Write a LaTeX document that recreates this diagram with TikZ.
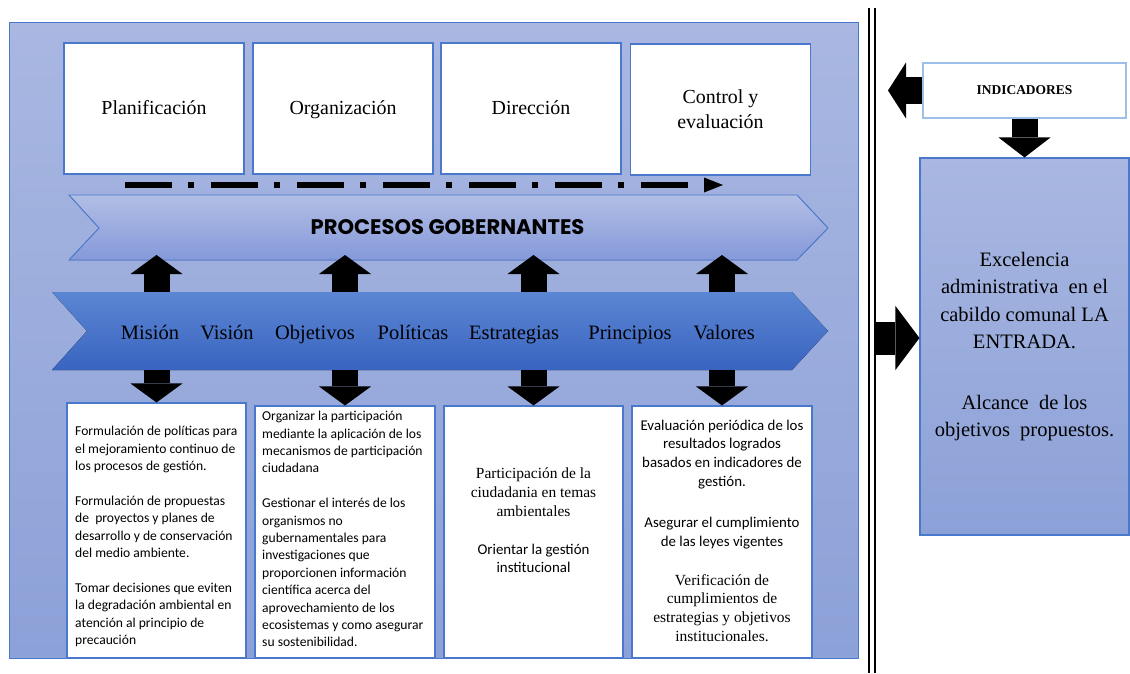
\documentclass[tikz,border=0pt]{standalone}
\usepackage{fontspec}
\setmainfont{Liberation Serif}
\newfontfamily\calibri{Carlito}
\newfontfamily\procfont{Poppins}
\usetikzlibrary{arrows.meta,positioning}

\definecolor{paneltop}{HTML}{A9B7E1}
\definecolor{panelbot}{HTML}{8CA1D8}
\definecolor{bandtop}{HTML}{5B86D3}
\definecolor{bandbot}{HTML}{3964C0}
\definecolor{edgeblue}{HTML}{4A78CC}
\definecolor{indedge}{HTML}{9CC0E8}

\tikzset{
	panel/.style={draw=edgeblue, line width=0.8pt, top color=paneltop, bottom color=panelbot},
	procband/.style={draw=edgeblue, line width=0.8pt, top color=paneltop!90!white, bottom color=panelbot!95!blue},
	baseband/.style={top color=bandtop, bottom color=bandbot},
	topbox/.style={draw=edgeblue, line width=0.9pt, fill=white, minimum width=5.4cm, minimum height=3.93cm, inner sep=0pt, align=center, font=\fontsize{17}{21.3}\selectfont},
	lowbox/.style={draw=edgeblue, line width=0.9pt, fill=white, inner sep=0pt},
	word/.style={anchor=base, inner sep=0pt, font=\fontsize{17.5}{21}\selectfont},
	smalltxt/.style={inner sep=0pt, font=\calibri\fontsize{11.6}{14.85}\selectfont},
	midtxt/.style={inner sep=0pt, align=center, font=\calibri\fontsize{12.7}{16}\selectfont},
	seriftxt/.style={inner sep=0pt, align=center, font=\fontsize{13.2}{16}\selectfont},
	flowline/.style={line width=0.18cm, dash pattern=on 1.41cm off 0.48cm on 0.18cm off 0.51cm, -{Triangle[width=0.45cm, length=0.57cm, line width=0pt]}},
	fat/.style n args={3}{line width=#1, -{Triangle[width=#2, length=#3, line width=0pt]}},
	vfat/.style={fat={0.78cm}{1.56cm}{0.57cm}}
}

\begin{document}
\begin{tikzpicture}[x=0.03cm, y=-0.03cm]
	\useasboundingbox (0,0) rectangle (1130,673);
	%background panel
	\draw[panel] (9,22) rectangle (858,658);

	%management functions on top
	\node[topbox, text depth=0.22em] (plan) at (154,108.5) {Planificación};
	\node[topbox, text depth=0.22em] (org) at (343,108.5) {Organización};
	\node[topbox, text depth=0.22em] (dir) at (531,108.5) {Dirección};
	\node[topbox] (ctl) at (720.5,109.5) {Control y\\evaluación};

	%dash dot flow under the boxes
	\coordinate (flowstart) at (125,185);
	\coordinate (flowend) at (723,185);
	\draw[flowline] (flowstart) -- (flowend);

	%governing processes band
	\filldraw[procband] (69,195) -- (797,195) -- (828,228) -- (797,260) -- (69,260) -- (99,228) -- cycle;
	\node[inner sep=0pt, font=\procfont\bfseries\fontsize{18}{21}\selectfont] (gob) at (447.5,227.5) {PROCESOS GOBERNANTES};

	%base band with the guiding elements
	\fill[baseband] (52,292) -- (792,292) -- (828,331) -- (792,370) -- (52,370) -- (87,331) -- cycle;
	\node[word] (mis) at (150,339) {Misión};
	\node[word] (vis) at (227,339) {Visión};
	\node[word] (obj) at (315,339) {Objetivos};
	\node[word] (pol) at (413,339) {Políticas};
	\node[word] (est) at (514,339) {Estrategias};
	\node[word] (pri) at (630,339) {Principios};
	\node[word] (val) at (724,339) {Valores};

	%bottom boxes
	\node[lowbox, minimum width=5.37cm, minimum height=7.65cm] (b1) at (156.5,530.5) {};
	\node[lowbox, minimum width=5.4cm, minimum height=7.56cm] (b2) at (345,532) {};
	\node[lowbox, minimum width=5.37cm, minimum height=7.56cm] (b3) at (533.5,532) {};
	\node[lowbox, minimum width=5.4cm, minimum height=7.56cm] (b4) at (722,532) {};

	\node[smalltxt, anchor=north west, align=left] (t1) at (75,426) {Formulación de políticas para\\el mejoramiento continuo de\\los procesos de gestión.\\[14.85pt]Formulación de propuestas\\de \ proyectos y planes de\\desarrollo y de conservación\\del medio ambiente.\\[14.85pt]Tomar decisiones que eviten\\la degradación ambiental en\\atención al principio de\\precaución};
	\node[smalltxt, anchor=north west, align=left] (t2) at (262,411) {Organizar la participación\\mediante la aplicación de los\\mecanismos de participación\\ciudadana\\[14.85pt]Gestionar el interés de los\\organismos no\\gubernamentales para\\investigaciones que\\proporcionen información\\científica acerca del\\aprovechamiento de los\\ecosistemas y como asegurar\\su sostenibilidad.};
	\node[seriftxt, anchor=north] (t3a) at (533.5,468) {Participación de la\\ciudadania en temas\\ambientales};
	\node[midtxt, anchor=north] (t3b) at (533.5,543.5) {Orientar la gestión\\institucional};
	\node[midtxt, anchor=north] (t4a) at (722,419.5) {Evaluación periódica de los\\resultados logrados\\basados en indicadores de\\gestión.};
	\node[midtxt, anchor=north] (t4b) at (722,517) {Asegurar el cumplimiento\\de las leyes vigentes};
	\node[seriftxt, anchor=north] (t4c) at (722,574) {Verificación de\\cumplimientos de\\estrategias y objetivos\\institucionales.};

	%block arrows between the bands and the boxes
	\coordinate (basetop) at (0,292);
	\coordinate (basebot) at (0,370);
	\coordinate (gobtip) at (0,255);
	\foreach \b in {b1,b2,b3,b4}{
		\draw[vfat] (basetop -| \b.north) -- (gobtip -| \b.north);
		\draw[vfat] (basebot -| \b.north) -- (\b.north);
	}

	%separator and result side
	\draw[line width=0.06cm] (869,8) -- (869,673);
	\draw[line width=0.06cm] (875,8) -- (875,673);
	\node[draw=indedge, line width=0.9pt, fill=white, minimum width=6.09cm, minimum height=1.65cm, font=\bfseries\fontsize{11.5}{14}\selectfont] (ind) at (1024.5,90.5) {INDICADORES};
	\node[draw=edgeblue, line width=0.9pt, top color=paneltop, bottom color=panelbot, minimum width=6.27cm, minimum height=11.31cm, align=center, font=\fontsize{17.5}{23.5}\selectfont] (exc) at (1024.5,346.5) {Excelencia\\administrativa \ en el\\cabildo comunal LA\\ENTRADA.\\[28pt]Alcance \ de los\\objetivos \ propuestos.};
	\coordinate (indtip) at (888,90.5);
	\draw[fat={0.81cm}{1.68cm}{0.54cm}] (ind.west) -- (indtip);
	\draw[fat={0.78cm}{1.56cm}{0.6cm}] (ind.south) -- (exc.north);
	\coordinate (rail) at (876,338);
	\draw[fat={0.99cm}{1.92cm}{0.72cm}] (rail) -- (rail -| exc.west);
\end{tikzpicture}
\end{document}
